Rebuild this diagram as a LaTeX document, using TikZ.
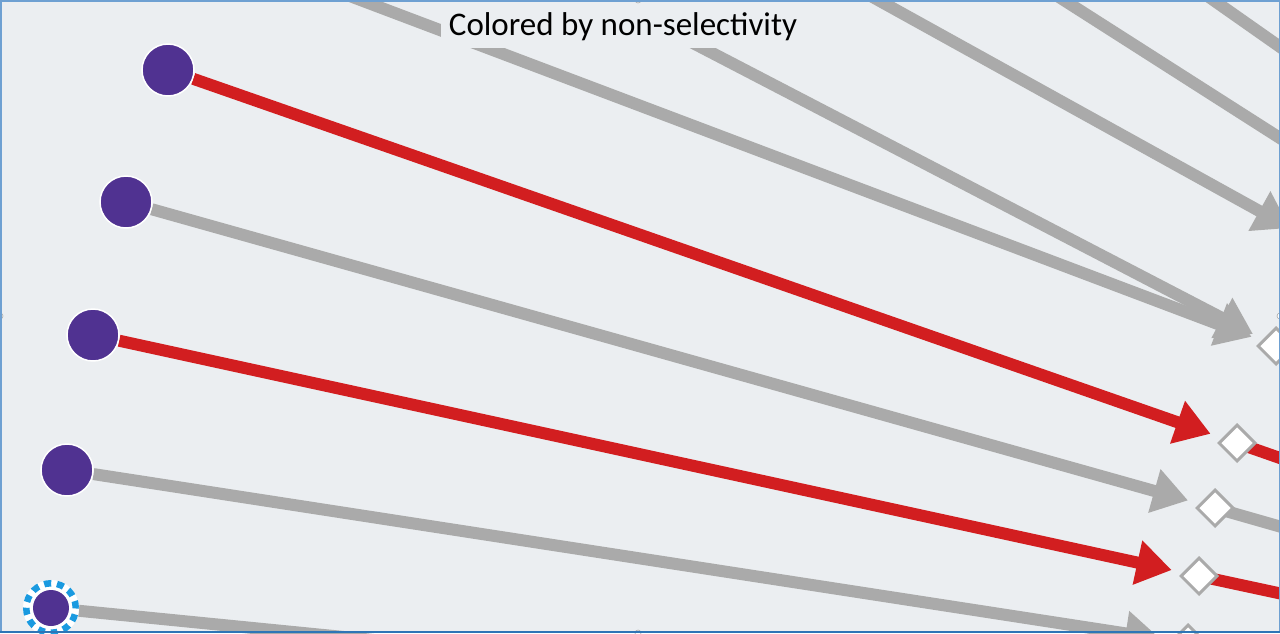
\documentclass[tikz,border=0pt]{standalone}
\usepackage{fontspec}
\setmainfont{Carlito}
\usetikzlibrary{arrows.meta,shapes.geometric}
\definecolor{bgc}{RGB}{235,238,241}
\definecolor{linegray}{RGB}{170,170,170}
\definecolor{linered}{RGB}{210,30,32}
\definecolor{purp}{RGB}{80,50,145}
\definecolor{ringblue}{RGB}{26,154,224}
\definecolor{bord}{RGB}{110,160,210}
\definecolor{bordb}{RGB}{46,117,182}
\pgfdeclarelayer{back}
\pgfdeclarelayer{edges}
\pgfsetlayers{back,edges,main}
\begin{document}
\begin{tikzpicture}[x=1pt,y=-1pt,
  grayline/.style={draw=linegray,line width=12pt},
  redline/.style={draw=linered,line width=12pt},
  head/.style={-{Triangle[length=35pt,width=43pt]}},
  dot/.style={circle,fill=purp,draw=white,line width=1.5pt,minimum size=52pt,inner sep=0pt},
  port/.style={diamond,fill=white,draw=linegray,line width=3pt,minimum size=37pt,inner sep=0pt},
  handle/.style={circle,fill=white,draw=gray!70,line width=0.6pt,minimum size=6pt,inner sep=0pt},
  titlebox/.style={anchor=base,fill=bgc,inner xsep=8pt,inner ysep=0pt,text height=35pt,text depth=13pt,font=\fontsize{33}{39}\selectfont}]
\useasboundingbox (0,0) rectangle (1280,633);

% nodes
\node[dot] (c1) at (168,70) {};
\node[dot] (c2) at (126,202) {};
\node[dot] (c3) at (93,335) {};
\node[dot] (c4) at (67,470) {};
\node[circle,fill=white,draw=white,line width=6.5pt,minimum size=49.5pt,inner sep=0pt,
      postaction={draw=ringblue,dash pattern=on 7pt off 5.9pt}] (c5) at (51,608) {};
\node[circle,fill=purp,minimum size=36pt,inner sep=0pt] (c5dot) at (51,608) {};

\node[port] (d0) at (1276,346) {};
\node[port] (d1) at (1237,443) {};
\node[port] (d2) at (1215,508) {};
\node[port] (d3) at (1199,576) {};
\node[port] (d4) at (1188,643) {};

\coordinate (sA) at (334,-10);
\coordinate (sB) at (591,-10);
\coordinate (sC) at (860,-10);
\coordinate (tC) at (1290,228);
\coordinate (sD) at (1048,-10);
\coordinate (eD) at (1330,170);
\coordinate (sE) at (1199,-10);
\coordinate (eE) at (1330,82);
\coordinate (e1) at (1320,472);
\coordinate (e2) at (1320,538);
\coordinate (e3) at (1320,602);
\coordinate (t5) at (1000,702);

\node[titlebox] (title) at (623,35) {Colored by non-selectivity};

\node[handle] (h1) at (638,0) {};
\node[handle] (h2) at (0,316) {};
\node[handle] (h3) at (638,633) {};
\node[handle] (h4) at (1280,316) {};

\begin{pgfonlayer}{back}
  \fill[bgc] (0,0) rectangle (1280,633);
\end{pgfonlayer}

\begin{pgfonlayer}{edges}
  % gray lines from the top
  \draw[grayline,head,shorten >=26pt] (sA) -- (d0.center);
  \draw[grayline,head,shorten >=26pt] (sB) -- (d0.center);
  \draw[grayline,head] (sC) -- (tC);
  \draw[grayline] (sD) -- (eD);
  \draw[grayline] (sE) -- (eE);
  % continuations past the ports
  \draw[redline] (d1.center) -- (e1);
  \draw[grayline] (d2.center) -- (e2);
  \draw[redline] (d3.center) -- (e3);
  % main connectors
  \draw[redline,head,shorten >=28pt] (c1) -- (d1.center);
  \draw[grayline,head,shorten >=28pt] (c2) -- (d2.center);
  \draw[redline,head,shorten >=28pt] (c3) -- (d3.center);
  \draw[grayline,head,shorten >=28pt] (c4) -- (d4.center);
  \draw[grayline] (c5) -- (t5);
\end{pgfonlayer}

% frame
\draw[bord,line width=1.5pt] (0.75,0.75) rectangle (1279.25,632.25);
\draw[bordb,line width=2.5pt] (0,631.75) -- (1280,631.75);
\end{tikzpicture}
\end{document}
